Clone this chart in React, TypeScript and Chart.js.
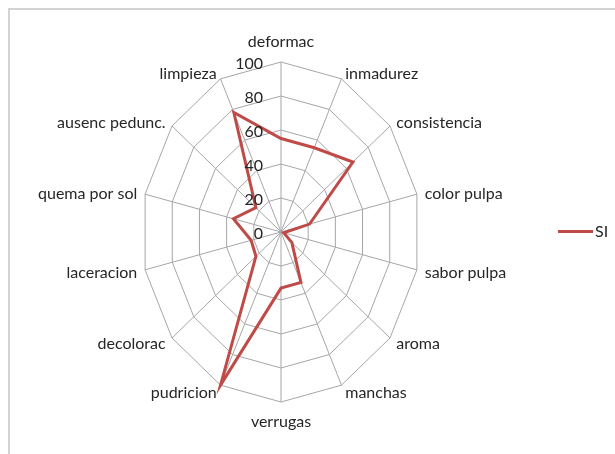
import React, { useEffect, useRef } from "react";
import { Chart, registerables, RadialLinearScale } from "chart.js";

Chart.register(...registerables);

// ---- data ----
const categories: string[] = [
  "deformac",
  "inmadurez",
  "consistencia",
  "color pulpa",
  "sabor pulpa",
  "aroma",
  "manchas",
  "verrugas",
  "pudricion",
  "decolorac",
  "laceracion",
  "quema por sol",
  "ausenc pedunc.",
  "limpieza",
];
const siValues: number[] = [55, 55, 66, 21, 2, 10, 33, 33, 100, 23, 22, 35, 23, 78];
const seriesName = "SI";
const scaleMin = 0;
const scaleMax = 100;
const scaleStep = 20;

// ---- style ----
const X_RATIO = 0.82; // the reference plot is an ellipse (narrower than tall)
const LINE_COLOR = "#BE4B48";
const GRID_COLOR = "#a6a6a6";
const TEXT_COLOR = "#262626";
const FONT = "16px Lato, 'Liberation Sans', sans-serif";

class EllipticalRadialScale extends RadialLinearScale {
  static id = "ellipticalRadial";
  getPointPosition(index: number, distanceFromCenter: number, additionalAngle = 0) {
    const p: any = super.getPointPosition(index, distanceFromCenter, additionalAngle);
    return {
      x: this.xCenter + (p.x - this.xCenter) * X_RATIO,
      y: p.y,
      angle: p.angle,
    };
  }
}
Chart.register(EllipticalRadialScale as any);

const excelLabels = {
  id: "excelLabels",
  afterDraw(chart: any) {
    const scale = chart.scales.r;
    const ctx = chart.ctx as CanvasRenderingContext2D;
    ctx.save();
    ctx.font = FONT;
    ctx.fillStyle = TEXT_COLOR;
    ctx.textBaseline = "middle";
    const R = scale.drawingArea;
    // category labels
    categories.forEach((label, i) => {
      const a = scale.getIndexAngle(i);
      const s = Math.sin(a);
      const c = Math.cos(a);
      const v = scale.getPointPosition(i, R);
      if (Math.abs(s) < 1e-6) {
        ctx.textAlign = "center";
        ctx.fillText(label, v.x, c > 0 ? v.y - 20 : v.y + 19.5);
      } else {
        ctx.textAlign = s > 0 ? "left" : "right";
        ctx.fillText(label, v.x + s * 7.5 + (s > 0 ? 0.5 : -0.5), v.y - c * 7 + 1);
      }
    });
    // tick labels (including 0)
    ctx.textAlign = "right";
    scale.ticks.forEach((t: any) => {
      const pos = scale.getPointPositionForValue(0, t.value);
      ctx.fillText(String(t.label ?? t.value), scale.xCenter - 18, pos.y + 1.5);
    });
    // legend
    const ds = chart.data.datasets[0];
    const ly = scale.yCenter - 0.5;
    const lx = chart.width - 57;
    ctx.strokeStyle = ds.borderColor;
    ctx.lineWidth = 3;
    ctx.beginPath();
    ctx.moveTo(lx, ly);
    ctx.lineTo(lx + 35, ly);
    ctx.stroke();
    ctx.textAlign = "left";
    ctx.fillText(ds.label, lx + 37, ly);
    ctx.restore();
  },
};

export default function App() {
  const canvasRef = useRef<HTMLCanvasElement | null>(null);

  useEffect(() => {
    const canvas = canvasRef.current;
    if (!canvas) return;
    const chart = new Chart(canvas, {
      type: "radar",
      data: {
        labels: categories,
        datasets: [
          {
            label: seriesName,
            data: siValues,
            borderColor: LINE_COLOR,
            backgroundColor: LINE_COLOR,
            borderWidth: 3,
            pointRadius: 0,
            pointHoverRadius: 0,
            fill: false,
            tension: 0,
          },
        ],
      },
      options: {
        animation: false,
        responsive: false,
        devicePixelRatio: 1,
        events: [],
        layout: { padding: { top: 62, bottom: 52, left: 111, right: 164 } },
        plugins: {
          legend: { display: false },
          tooltip: { enabled: false },
        },
        scales: {
          r: {
            type: "ellipticalRadial" as any,
            min: scaleMin,
            max: scaleMax,
            beginAtZero: true,
            ticks: { stepSize: scaleStep, display: false },
            pointLabels: { display: false },
            grid: { color: GRID_COLOR, lineWidth: 1 },
            angleLines: { color: GRID_COLOR, lineWidth: 1 },
          },
        },
      } as any,
      plugins: [excelLabels],
    });
    return () => chart.destroy();
  }, []);

  return (
    <div
      style={{
        position: "fixed",
        left: 0,
        top: 0,
        width: 615,
        height: 454,
        overflow: "hidden",
        background: "#fff",
      }}
    >
      <div
        style={{
          position: "absolute",
          left: 8,
          top: 8,
          width: 700,
          height: 600,
          border: "2px solid #d3d3d3",
        }}
      />
      <canvas
        ref={canvasRef}
        width={615}
        height={454}
        style={{ position: "absolute", left: 0, top: 0, width: 615, height: 454 }}
      />
    </div>
  );
}
